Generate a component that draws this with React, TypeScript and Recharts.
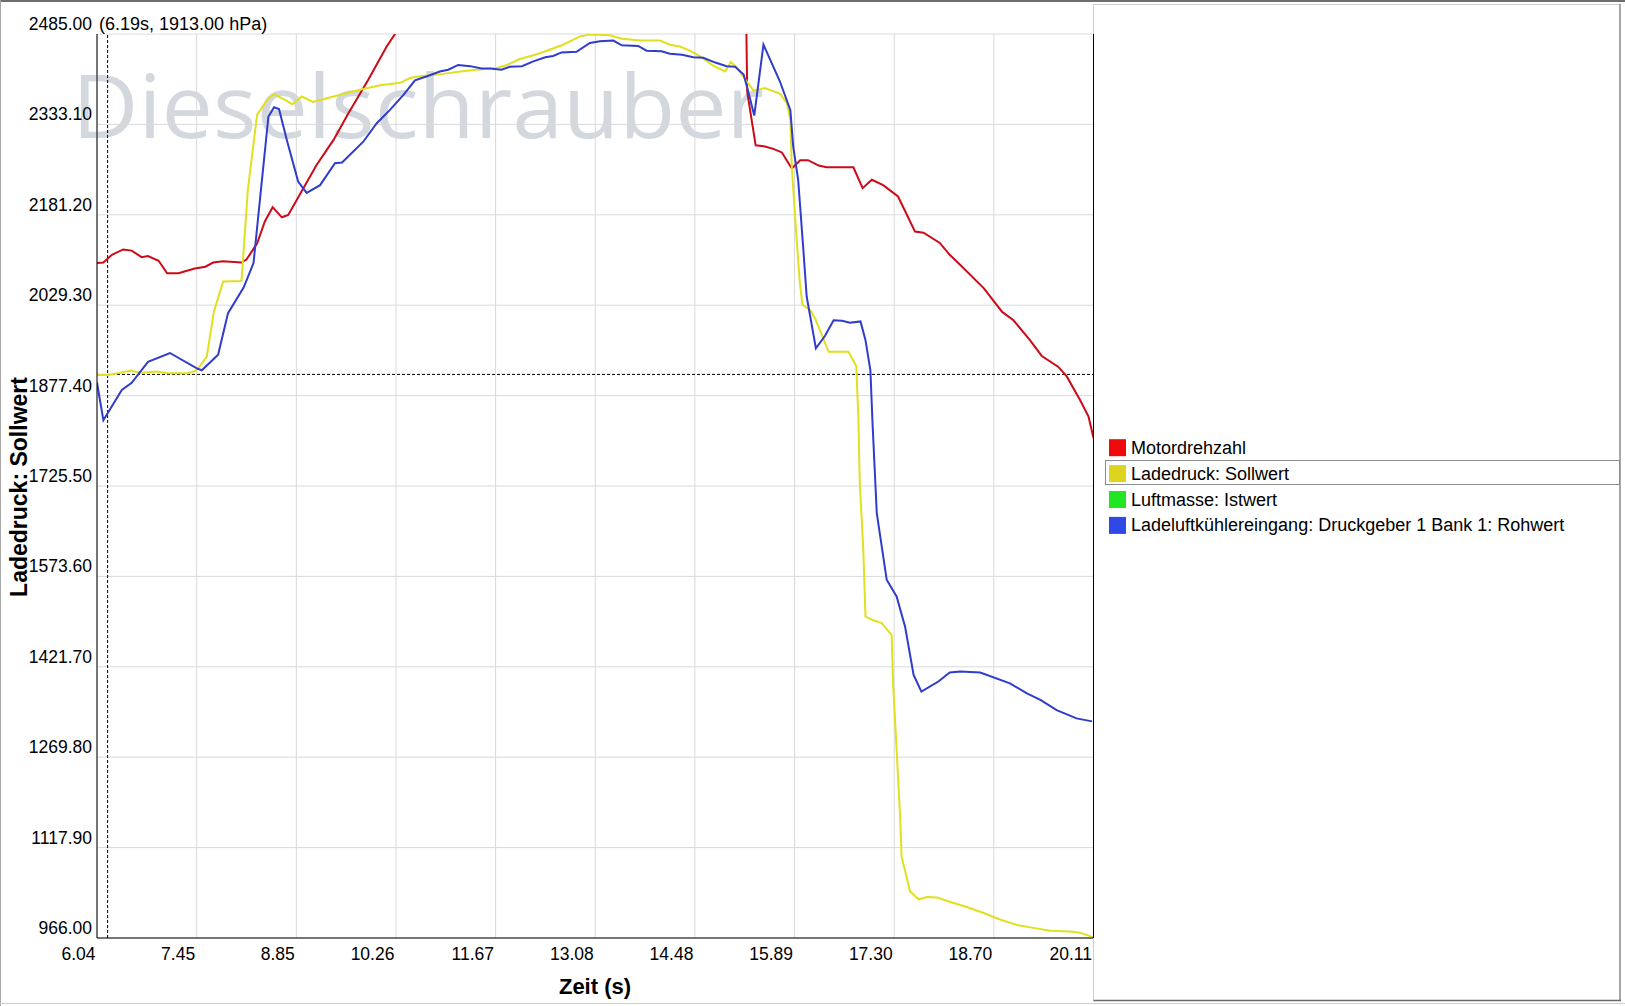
import React from "react";
import { LineChart, Line, XAxis, YAxis, CartesianGrid, ReferenceLine } from "recharts";

// ---------------------------------------------------------------------------
// Data
// ---------------------------------------------------------------------------

const xTicks = [6.04, 7.447, 8.854, 10.261, 11.668, 13.076, 14.482, 15.889, 17.296, 18.703, 20.11];
const yTicks = [966, 1117.9, 1269.8, 1421.7, 1573.6, 1725.5, 1877.4, 2029.3, 2181.2, 2333.1, 2485];

const cursorTime = 6.19;
const cursorValue = 1913;

// Motordrehzahl (leaves the top of the scale between ~10.3 s and ~15.2 s)
const redTime = [
  6.04, 6.13, 6.25, 6.41, 6.53, 6.67, 6.76, 6.91, 7.03, 7.19, 7.42, 7.57, 7.68, 7.82, 8.08, 8.15,
  8.3, 8.41, 8.52, 8.65, 8.74, 8.86, 9.14, 9.38, 9.59, 9.87, 10.13, 10.27, 10.6, 11.0, 11.5, 12.0,
  12.5, 13.0, 13.5, 14.0, 14.5, 15.0, 15.14, 15.22, 15.34, 15.47, 15.59, 15.71, 15.85, 15.97, 16.08,
  16.23, 16.34, 16.72, 16.85, 16.98, 17.14, 17.35, 17.59, 17.71, 17.94, 18.08, 18.23, 18.56, 18.82,
  18.98, 19.21, 19.38, 19.61, 19.73, 19.92, 20.04, 20.11,
];
const redValue = [
  2100, 2101, 2114, 2123, 2121, 2110, 2112, 2104, 2083, 2083, 2091, 2094, 2101, 2103, 2101, 2106,
  2133, 2170, 2194, 2177, 2181, 2206, 2265, 2307, 2352, 2408, 2464, 2489, 2545, 2610, 2690, 2760,
  2830, 2890, 2950, 3010, 3070, 3120, 3140, 2388, 2298, 2296, 2292, 2286, 2259, 2273, 2273,
  2264, 2261, 2261, 2226, 2240, 2231, 2212, 2153, 2151, 2134, 2114, 2097, 2058, 2018,
  2004, 1971, 1944, 1926, 1910, 1870, 1842, 1806,
];

// Ladedruck: Sollwert
const yellowTime = [
  6.04, 6.2, 6.51, 6.67, 6.88, 7.05, 7.33, 7.45, 7.59, 7.69, 7.82, 8.08, 8.17, 8.3, 8.44, 8.54, 8.7,
  8.8, 8.93, 9.09, 9.38, 9.78, 10.04, 10.32, 10.46, 10.6, 10.93, 11.17, 11.4, 11.68, 11.83, 12.01,
  12.25, 12.44, 12.62, 12.86, 13.0, 13.28, 13.45, 13.71, 13.99, 14.13, 14.27, 14.41, 14.55, 14.74,
  14.91, 14.99, 15.07, 15.21, 15.31, 15.47, 15.68, 15.78, 15.83, 15.85, 15.9, 15.96, 16.0, 16.11,
  16.18, 16.37, 16.65, 16.76, 16.79, 16.81, 16.86, 16.89, 17.0, 17.12, 17.26, 17.28, 17.33, 17.38,
  17.4, 17.52, 17.64, 17.76, 17.9, 18.08, 18.32, 18.56, 18.79, 19.03, 19.26, 19.5, 19.78, 19.92, 20.11,
];
const yellowValue = [
  1912, 1912, 1919, 1916, 1918, 1915, 1915, 1920, 1943, 2018, 2069, 2070, 2223, 2349, 2374, 2384, 2374,
  2367, 2380, 2371, 2380, 2392, 2399, 2403, 2411, 2414, 2418, 2422, 2425, 2428, 2433, 2443,
  2451, 2459, 2467, 2481, 2484, 2483, 2477, 2474, 2474, 2467, 2464, 2457, 2448, 2432,
  2422, 2438, 2429, 2406, 2390, 2394, 2385, 2369, 2340, 2262, 2172, 2072, 2030, 2021,
  2007, 1951, 1951, 1927, 1842, 1731, 1618, 1506, 1500, 1495, 1475, 1395, 1282, 1170,
  1103, 1044, 1031, 1035, 1034, 1027, 1018, 1008, 997, 988, 983, 978, 977, 975, 967,
];

// Ladeluftkühlereingang: Druckgeber 1 Bank 1: Rohwert
const blueTime = [
  6.04, 6.13, 6.39, 6.53, 6.76, 7.07, 7.45, 7.52, 7.75, 7.89, 8.11, 8.25, 8.34, 8.46, 8.54, 8.61,
  8.72, 8.88, 9.0, 9.19, 9.4, 9.5, 9.8, 9.99, 10.18, 10.37, 10.53, 10.7, 10.88, 11.0, 11.14, 11.31,
  11.47, 11.59, 11.75, 11.87, 12.04, 12.2, 12.37, 12.48, 12.6, 12.81, 13.0, 13.14, 13.33, 13.45,
  13.68, 13.8, 14.01, 14.13, 14.3, 14.46, 14.6, 14.77, 14.93, 15.05, 15.17, 15.24, 15.32, 15.45,
  15.68, 15.83, 15.87, 15.94, 16.01, 16.06, 16.19, 16.32, 16.44, 16.56, 16.67, 16.82, 16.89, 16.96,
  16.99, 17.05, 17.19, 17.33, 17.45, 17.57, 17.68, 17.92, 18.08, 18.23, 18.51, 18.93, 19.17, 19.36,
  19.59, 19.87, 20.09,
];
const blueValue = [
  1899, 1836, 1887, 1899, 1934, 1949, 1923, 1920, 1946, 2016, 2059, 2100, 2206, 2346, 2362, 2359,
  2307, 2237, 2218, 2231, 2268, 2269, 2304, 2335, 2358, 2383, 2407, 2414, 2422, 2425, 2433, 2431,
  2427, 2427, 2425, 2430, 2431, 2439, 2446, 2448, 2454, 2455, 2470, 2473, 2474, 2466,
  2465, 2457, 2456, 2452, 2450, 2446, 2445, 2437, 2431, 2430, 2417, 2386, 2348, 2467,
  2406, 2357, 2296, 2240, 2128, 2044, 1957, 1978, 2004, 2003, 2000, 2002, 1971, 1920,
  1831, 1680, 1568, 1540, 1489, 1408, 1380, 1397, 1412, 1414, 1412, 1394, 1377, 1366,
  1349, 1335, 1330,
];

const legendNames = [
  "Motordrehzahl",
  "Ladedruck: Sollwert",
  "Luftmasse: Istwert",
  "Ladeluftkühlereingang: Druckgeber 1 Bank 1: Rohwert",
];
const legendColors = ["#ee0a0a", "#dcd41e", "#22e622", "#3048e6"];
const lineColors = { red: "#cc0a18", yellow: "#e0e01e", blue: "#2f3ccc" };

const toPoints = (t: number[], v: number[]) => t.map((x, i) => ({ t: x, v: v[i] }));
const redData = toPoints(redTime, redValue);
const yellowData = toPoints(yellowTime, yellowValue);
const blueData = toPoints(blueTime, blueValue);

// ---------------------------------------------------------------------------
// Layout
// ---------------------------------------------------------------------------

const W = 1625;
const H = 1006;
const FONT = '"Liberation Sans", Arial, sans-serif';

const XTick = (props: any) => {
  const { x, y, payload } = props;
  return (
    <text x={x - 1.5} y={y + 22} textAnchor="end" fontSize={17.5} fontFamily={FONT} fill="#000">
      {Number(payload.value).toFixed(2)}
    </text>
  );
};

const YTick = (props: any) => {
  const { x, y, payload } = props;
  return (
    <text x={x - 5} y={y - 4} textAnchor="end" fontSize={17.5} fontFamily={FONT} fill="#000">
      {Number(payload.value).toFixed(2)}
    </text>
  );
};

export default function App() {
  const rowY = [447.7, 473.6, 499.5, 525.4];
  return (
    <div
      style={{
        position: "absolute",
        left: 0,
        top: 0,
        width: W,
        height: H,
        background: "#fff",
        overflow: "hidden",
      }}
    >
      {/* watermark behind the plot */}
      <svg width={W} height={H} style={{ position: "absolute", left: 0, top: 0 }}>
        <text
          x={72}
          y={138}
          fontSize={88}
          fontFamily='"Open Sans", "Liberation Sans", sans-serif'
          fill="#d3d8de"
          textLength={692}
          lengthAdjust="spacingAndGlyphs"
        >
          Dieselschrauber
        </text>
      </svg>

      <div style={{ position: "absolute", left: 0, top: 0 }}>
        <LineChart width={W} height={H} margin={{ top: 34, right: 531.5, bottom: 0, left: 0 }}>
          <CartesianGrid stroke="#d9d9d9" strokeWidth={1} />
          <XAxis
            dataKey="t"
            type="number"
            domain={[6.04, 20.11]}
            ticks={xTicks}
            interval={0}
            allowDataOverflow
            height={68}
            tickSize={0}
            tickMargin={0}
            tickLine={false}
            tick={<XTick />}
            axisLine={{ stroke: "#000", strokeWidth: 1 }}
          />
          <XAxis
            xAxisId="top"
            orientation="top"
            dataKey="t"
            type="number"
            domain={[6.04, 20.11]}
            height={0}
            tick={false}
            tickLine={false}
            axisLine={{ stroke: "#000", strokeWidth: 1 }}
          />
          <YAxis
            type="number"
            domain={[966, 2485]}
            ticks={yTicks}
            interval={0}
            allowDataOverflow
            width={97}
            tickSize={0}
            tickMargin={0}
            tickLine={false}
            tick={<YTick />}
            axisLine={{ stroke: "#000", strokeWidth: 1 }}
          />
          <YAxis
            yAxisId="right"
            orientation="right"
            type="number"
            domain={[966, 2485]}
            width={0}
            tick={false}
            tickLine={false}
            axisLine={{ stroke: "#000", strokeWidth: 1 }}
          />
          <ReferenceLine x={cursorTime} stroke="#000" strokeDasharray="3 2" strokeWidth={1} />
          <ReferenceLine y={cursorValue} stroke="#000" strokeDasharray="3 2" strokeWidth={1} />
          <Line
            data={redData}
            dataKey="v"
            type="linear"
            stroke={lineColors.red}
            strokeWidth={2}
            dot={false}
            isAnimationActive={false}
          />
          <Line
            data={yellowData}
            dataKey="v"
            type="linear"
            stroke={lineColors.yellow}
            strokeWidth={2}
            dot={false}
            isAnimationActive={false}
          />
          <Line
            data={blueData}
            dataKey="v"
            type="linear"
            stroke={lineColors.blue}
            strokeWidth={2}
            dot={false}
            isAnimationActive={false}
          />
        </LineChart>
      </div>

      {/* labels, frame and legend panel */}
      <svg
        width={W}
        height={H}
        style={{ position: "absolute", left: 0, top: 0, pointerEvents: "none" }}
        fontFamily={FONT}
      >
        <rect x={98} y={10} width={172} height={23.4} fill="#fff" />
        <text x={99} y={30} fontSize={18} fill="#000">
          ({cursorTime.toFixed(2)}s, {cursorValue.toFixed(2)} hPa)
        </text>
        <text x={595} y={994} fontSize={22} fontWeight="bold" textAnchor="middle" fill="#000">
          Zeit (s)
        </text>
        <text
          transform="translate(26.5,487) rotate(-90)"
          fontSize={23}
          fontWeight="bold"
          textAnchor="middle"
          fill="#000"
        >
          Ladedruck: Sollwert
        </text>

        {/* outer frame */}
        <line x1={0} y1={1} x2={W} y2={1} stroke="#6e6e6e" strokeWidth={2} />
        <line x1={0.5} y1={0} x2={0.5} y2={H} stroke="#a8a8a8" strokeWidth={1} />
        <line x1={0} y1={1003.5} x2={W} y2={1003.5} stroke="#d0d0d0" strokeWidth={1} />

        {/* legend panel */}
        <rect x={1094} y={4.5} width={526} height={996} fill="#fff" />
        <line x1={1093.5} y1={4} x2={1093.5} y2={1001} stroke="#cfcfcf" />
        <line x1={1093.5} y1={4.5} x2={1620} y2={4.5} stroke="#cfcfcf" />
        <line x1={1620} y1={4} x2={1620} y2={1001} stroke="#8a8a8a" strokeWidth={1.5} />
        <line x1={1093.5} y1={1000.5} x2={1621} y2={1000.5} stroke="#6a6a6a" strokeWidth={1.5} />
        <line x1={1093.5} y1={34} x2={1093.5} y2={938} stroke="#000" />

        <rect x={1105.5} y={460.5} width={514} height={24} fill="none" stroke="#8c8c8c" />
        {legendNames.map((name, i) => (
          <g key={name}>
            <rect x={1109} y={rowY[i] - 8.5} width={17} height={17} fill={legendColors[i]} />
            <text x={1131} y={rowY[i] + 6} fontSize={18} fill="#000">
              {name}
            </text>
          </g>
        ))}
      </svg>
    </div>
  );
}
